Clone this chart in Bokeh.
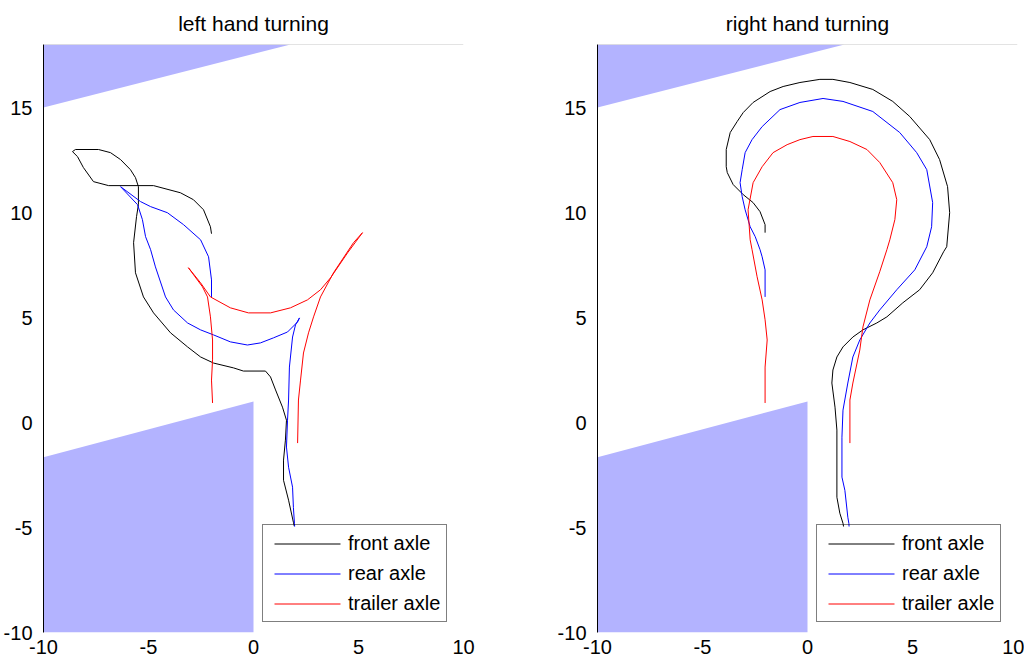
from bokeh.plotting import figure
from bokeh.models import Range1d, Span, Legend, LegendItem, FixedTicker
from bokeh.layouts import row
from bokeh.embed import file_html
from bokeh.resources import INLINE

# ---- data ----
titles = ["left hand turning", "right hand turning"]
x_ticks = [-10, -5, 0, 5, 10]
y_ticks = [-10, -5, 0, 5, 10, 15]
series_names = ["front axle", "rear axle", "trailer axle"]
series_colors = ["#000000", "#0000ff", "#ff0000"]

wall_top_x = [-10, -10, 1.76]
wall_top_y = [18, 15, 18]
wall_bot_x = [-10, -10, 0, 0]
wall_bot_y = [-10, -1.65, 1.0, -10]

# left hand turning
L_front_x = [-2.0, -2.05, -2.38, -2.86, -3.48, -4.76, -6.90, -7.62, -8.10, -8.38, -8.62, -8.48,
             -7.38, -6.81, -6.33, -5.86, -5.62, -5.48, -5.48, -5.57, -5.71, -5.62, -5.24, -4.76,
             -3.95, -3.14, -2.52, -1.90, -0.95, -0.48, 0.57, 0.81, 1.05, 1.38, 1.57, 1.52, 1.43,
             1.43, 1.67, 1.90, 2.10]
L_front_y = [8.99, 9.32, 10.13, 10.61, 10.94, 11.28, 11.28, 11.47, 12.14, 12.66, 12.90, 13.0,
             13.0, 12.85, 12.52, 12.04, 11.66, 11.23, 10.37, 9.80, 8.56, 7.13, 5.98, 5.22,
             4.27, 3.60, 3.12, 2.83, 2.60, 2.45, 2.45, 2.17, 1.55, 0.73, 0.11, -0.84, -1.79,
             -2.75, -3.70, -4.75, -5.6]
L_rear_x = [-2.0, -2.0, -2.14, -2.52, -3.33, -4.10, -4.90, -5.38, -6.33, -5.52, -5.29, -5.14,
            -4.90, -4.67, -4.19, -3.81, -3.14, -2.52, -1.90, -1.10, -0.29, 0.33, 0.95, 1.62,
            2.10, 2.19, 2.0, 1.86, 1.71, 1.67, 1.62, 1.57, 1.67, 1.86, 1.90, 1.95, 2.0]
L_rear_y = [5.98, 6.79, 7.89, 8.70, 9.42, 9.99, 10.28, 10.52, 11.23, 10.37, 9.66, 8.85,
            8.23, 7.41, 5.98, 5.36, 4.74, 4.41, 4.17, 3.84, 3.69, 3.79, 4.03, 4.31,
            4.79, 4.98, 4.65, 4.07, 2.64, 1.07, 0.11, -1.17, -2.13, -3.08, -4.04, -4.80, -5.6]
L_trailer_x = [-1.95, -2.0, -1.95, -1.95, -2.05, -2.19, -2.43, -3.10, -2.52, -2.05, -1.10,
               -0.24, 0.81, 1.76, 2.57, 3.19, 3.67, 4.48, 5.19, 4.76, 3.81, 3.19, 2.86, 2.62,
               2.38, 2.24, 2.14, 2.10]
L_trailer_y = [0.93, 2.02, 2.98, 3.93, 5.03, 5.98, 6.46, 7.37, 6.65, 5.98, 5.46,
               5.22, 5.22, 5.46, 5.84, 6.32, 6.89, 8.08, 9.04, 8.56, 7.13, 5.98, 5.03, 4.27,
               3.31, 2.02, 1.07, -0.98]

# right hand turning
R_front_x = [-2.02, -2.02, -2.26, -2.59, -3.06, -3.54, -3.82, -3.87, -3.87, -3.68, -3.35, -3.06,
             -2.59, -1.78, -1.16, -0.36, 0.59, 1.21, 2.02, 3.11, 4.06, 4.87, 5.82, 6.29, 6.67,
             6.77, 6.63, 6.48, 5.96, 5.34, 4.54, 3.78, 3.30, 2.64, 2.16, 1.69, 1.40, 1.21, 1.16,
             1.31, 1.40, 1.40, 1.54, 1.69, 1.83]
R_front_y = [9.04, 9.42, 10.04, 10.47, 10.85, 11.33, 11.90, 12.18, 13.0, 13.81, 14.33, 14.76,
             15.24, 15.76, 16.0, 16.19, 16.34, 16.34, 16.19, 15.86, 15.29, 14.57, 13.47, 12.52, 11.23,
             9.99, 8.37, 8.13, 7.13, 6.32, 5.70, 5.03, 4.74, 4.41, 4.07, 3.60, 3.12, 2.50, 1.88,
             0.73, -0.36, -3.56, -4.32, -4.80, -5.6]
R_rear_x = [-2.02, -2.02, -2.16, -2.26, -2.49, -2.73, -2.97, -3.11, -3.21, -3.11, -2.97, -2.64,
            -2.16, -1.31, -0.36, 0.74, 1.69, 3.11, 4.39, 5.20, 5.68, 5.96, 5.91, 5.68, 5.11,
            4.25, 3.44, 2.97, 2.49, 2.16, 1.92, 1.69, 1.64, 1.64, 1.78, 1.92, 1.97, 2.02]
R_rear_y = [5.98, 7.27, 7.89, 8.23, 8.85, 9.32, 10.13, 10.75, 11.42, 12.04, 12.85, 13.47,
            14.09, 14.90, 15.24, 15.43, 15.29, 14.81, 13.81, 12.85, 12.04, 10.47, 9.32, 8.37, 7.27,
            6.32, 5.36, 4.74, 3.93, 3.12, 1.88, 0.59, -0.70, -2.60, -3.23, -4.51, -4.80, -5.6]
R_trailer_x = [-2.02, -2.02, -1.92, -2.02, -2.16, -2.40, -2.64, -2.73, -2.83, -2.59, -2.16, -1.64,
               -0.97, -0.36, 0.26, 1.21, 2.02, 2.83, 3.44, 4.06, 4.25, 4.16, 3.92, 3.78, 3.44,
               2.97, 2.64, 2.49, 2.16, 2.02, 2.02]
R_trailer_y = [0.93, 2.64, 3.93, 4.89, 5.84, 6.94, 8.23, 8.70, 10.13, 11.42, 12.18, 12.85,
               13.23, 13.47, 13.62, 13.62, 13.38, 13.0, 12.38, 11.42, 10.61, 9.66, 8.70, 8.23, 7.18,
               5.84, 4.55, 3.45, 1.88, 1.07, -0.98]

FONT = "Liberation Sans"
FS = "20px"
X0, X1, Y0, Y1 = -10, 10, -10, 18
FRAME_W, FRAME_H = 420, 588

# legend layout (screen px, relative to the plot frame's bottom-left)
LEG_X, LEG_Y, LEG_PAD, ROW_H, ROW_GAP, GLYPH_W, LEG_W = 219, 10, 6, 24, 6, 66, 190


def make_plot(title, paths, border_left, border_right):
    p = figure(frame_width=FRAME_W, frame_height=FRAME_H, output_backend="svg",
               toolbar_location=None,
               x_range=Range1d(X0, X1), y_range=Range1d(Y0, Y1),
               min_border_left=border_left, min_border_right=border_right,
               min_border_top=44, min_border_bottom=30)
    p.title.text = title
    p.title.align = "center"
    p.title.text_font = FONT
    p.title.text_font_size = "21px"
    p.title.text_font_style = "normal"
    p.title.text_color = "#000000"
    p.title.standoff = 19
    p.outline_line_color = None
    p.grid.visible = False
    p.background_fill_color = "white"
    p.border_fill_color = "white"

    for ax in (p.xaxis[0], p.yaxis[0]):
        ax.major_tick_line_color = None
        ax.minor_tick_line_color = None
        ax.major_label_text_font = FONT
        ax.major_label_text_font_size = FS
        ax.major_label_text_color = "#000000"
    p.xaxis[0].major_label_standoff = 1
    p.yaxis[0].major_label_standoff = 5
    p.xaxis[0].ticker = FixedTicker(ticks=x_ticks)
    p.yaxis[0].ticker = FixedTicker(ticks=y_ticks)
    p.xaxis[0].major_label_overrides = {t: str(t) for t in x_ticks}
    p.yaxis[0].major_label_overrides = {t: str(t) for t in y_ticks}
    p.xaxis[0].axis_line_color = None
    p.yaxis[0].axis_line_color = "#000000"
    p.yaxis[0].axis_line_width = 1

    p.patch(wall_top_x, wall_top_y, fill_color="#b3b3ff", line_color=None)
    p.patch(wall_bot_x, wall_bot_y, fill_color="#b3b3ff", line_color=None)
    p.add_layout(Span(location=18, dimension="width", line_color="#c8c8c8", line_width=1))

    for (xs, ys), col in zip(paths, series_colors):
        p.line(xs, ys, line_color=col, line_width=1)

    # legend geometry converted through the axis ranges
    sx = (X1 - X0) / FRAME_W
    sy = (Y1 - Y0) / FRAME_H
    n = len(series_names)
    box_top = LEG_Y + 2 * LEG_PAD + n * ROW_H + (n - 1) * ROW_GAP

    # white legend background (covers the data lines under the box)
    p.quad(left=[X0 + LEG_X * sx], right=[X0 + (LEG_X + LEG_W) * sx],
           bottom=[Y0 + LEG_Y * sy], top=[Y0 + box_top * sy],
           fill_color="white", line_color=None)

    # legend swatches
    x_a = X0 + (LEG_X + 12) * sx
    x_b = X0 + (LEG_X + 12 + GLYPH_W) * sx
    ys_sw = [Y0 + (box_top - LEG_PAD - ROW_H / 2 - k * (ROW_H + ROW_GAP) + 0.5) * sy
             for k in range(n)]
    p.segment(x0=[x_a] * n, y0=ys_sw, x1=[x_b] * n, y1=ys_sw,
              line_color=series_colors, line_width=1)

    # legend box and labels (transparent, drawn on top)
    items = [LegendItem(label=name, renderers=[]) for name in series_names]
    leg = Legend(items=items, location=(LEG_X, LEG_Y), margin=0, padding=LEG_PAD, spacing=ROW_GAP,
                 glyph_width=GLYPH_W, glyph_height=ROW_H, label_height=ROW_H, label_standoff=13,
                 label_text_font=FONT, label_text_font_size=FS, label_text_color="#000000",
                 border_line_color="#000000", border_line_width=1,
                 background_fill_alpha=0.0)
    p.add_layout(leg, "center")
    return p


p1 = make_plot(titles[0], [(L_front_x, L_front_y), (L_rear_x, L_rear_y), (L_trailer_x, L_trailer_y)],
               40, 53)
p2 = make_plot(titles[1], [(R_front_x, R_front_y), (R_rear_x, R_rear_y), (R_trailer_x, R_trailer_y)],
               81, 7)

layout = row(p1, p2)
open("out.html", "w").write(file_html(layout, INLINE))
